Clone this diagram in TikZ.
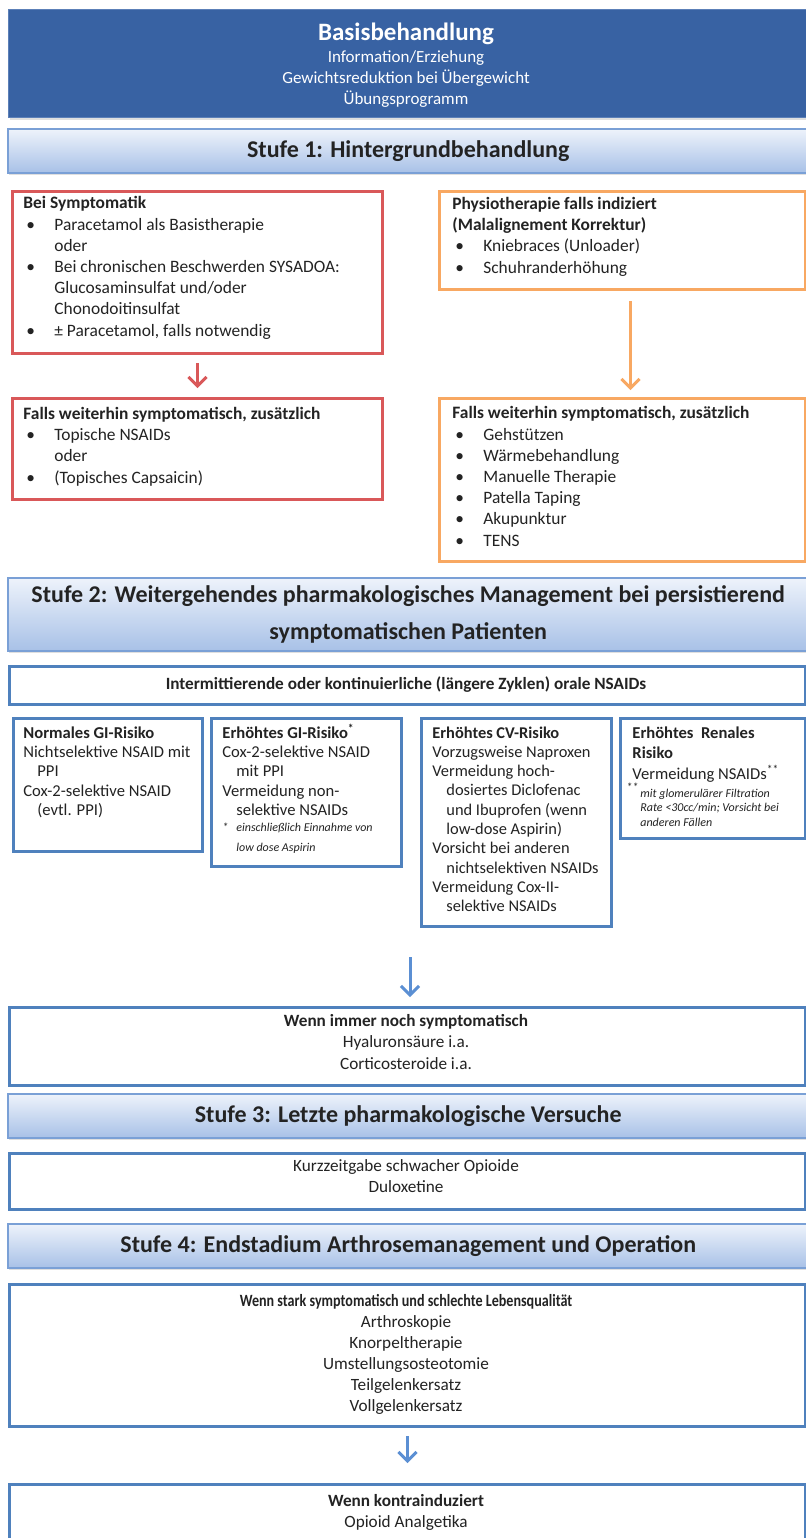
\documentclass[tikz,border=0pt]{standalone}
\usepackage{fontspec}
\setmainfont{Carlito}
\usetikzlibrary{arrows.meta,shadows}

\definecolor{basisblue}{RGB}{56,98,163}
\definecolor{basisline}{RGB}{92,128,184}
\definecolor{stagetop}{RGB}{238,243,251}
\definecolor{stagebot}{RGB}{168,193,231}
\definecolor{stageline}{RGB}{122,160,214}
\definecolor{boxred}{RGB}{217,88,89}
\definecolor{boxorange}{RGB}{248,168,98}
\definecolor{boxblue}{RGB}{79,129,189}
\definecolor{arrowblue}{RGB}{91,143,211}
\definecolor{inktext}{RGB}{35,35,35}

\newcommand\bul{\makebox[15.5pt][l]{\hspace{1.5pt}\textbullet}}
\newcommand\ind{\hspace*{15.5pt}}
\newcommand\hng{\hspace*{7pt}}

\begin{document}
\begin{tikzpicture}[x=0.5pt,y=-0.5pt,
    frame/.style={anchor=north west,inner sep=0pt,line width=1.5pt},
    wh/.style 2 args={minimum width=#1*0.5pt,minimum height=#2*0.5pt},
    redbox/.style={frame,draw=boxred,fill=white},
    orangebox/.style={frame,draw=boxorange,fill=white},
    bluebox/.style={frame,draw=boxblue,fill=white},
    stage/.style={frame,draw=stageline,line width=0.75pt,
      top color=stagetop,bottom color=stagebot,
      drop shadow={opacity=0.25,shadow xshift=0.6pt,shadow yshift=-1.2pt},
      font=\bfseries\fontsize{12}{18.5}\selectfont,text=inktext,align=center},
    txt/.style={anchor=base west,align=left,inner sep=0pt,text=inktext,
      font=\fontsize{8.7}{10.6}\selectfont},
    ctxt/.style={txt,anchor=base,align=center,font=\fontsize{8.6}{10.5}\selectfont},
    small/.style={txt,font=\fontsize{8.3}{9.7}\selectfont},
    note/.style={txt,font=\fontsize{6}{10}\selectfont\itshape},
    arr/.style={line width=1.5pt,-{Straight Barb[length=4.5pt,width=9pt]}}
  ]
  \useasboundingbox (0,0) rectangle (806,1538);

  \node[frame,fill=basisblue,draw=basisline,line width=0.5pt,wh={800}{108},
    drop shadow={opacity=0.25,shadow xshift=0.6pt,shadow yshift=-1.2pt}] (basis) at (8,9) {};
  \node[anchor=base,inner sep=0pt,text=white,font=\bfseries\fontsize{12.5}{14}\selectfont]
    (basis-t) at (406,40) {Basisbehandlung};
  \node[anchor=base,inner sep=0pt,text=white,align=center,font=\fontsize{8.5}{10.5}\selectfont]
    (basis-l) at (406,104) {Information/Erziehung\\Gewichtsreduktion bei Übergewicht\\Übungsprogramm};

  \node[stage,wh={801}{44}] (stufe1) at (7,128) {Stufe 1: Hintergrundbehandlung};

  \node[redbox,wh={370}{162}] (sym) at (11,190) {};
  \node[txt] (sym-t) at (23,336) {\textbf{Bei Symptomatik}\\
    \bul Paracetamol als Basistherapie\\
    \ind oder\\
    \bul Bei chronischen Beschwerden SYSADOA:\\
    \ind Glucosaminsulfat und/oder\\
    \ind Chonodoitinsulfat\\
    \bul ± Paracetamol, falls notwendig};
  \node[redbox,wh={370}{101}] (symb) at (11,397) {};
  \node[txt] (symb-t) at (23,483) {\textbf{Falls weiterhin symptomatisch, zusätzlich}\\
    \bul Topische NSAIDs\\
    \ind oder\\
    \bul (Topisches Capsaicin)};
  \draw[arr,boxred,shorten <=4pt,shorten >=4.5pt] (sym.south) -- (symb.north);

  \node[orangebox,wh={366}{98}] (phys) at (438,190) {};
  \node[txt] (phys-t) at (452,273) {\textbf{Physiotherapie falls indiziert}\\
    \textbf{(Malalignement Korrektur)}\\
    \bul Kniebraces (Unloader)\\
    \bul Schuhranderhöhung};
  \node[orangebox,wh={366}{163}] (physb) at (438,397) {};
  \node[txt] (physb-t) at (452,546) {\textbf{Falls weiterhin symptomatisch, zusätzlich}\\
    \bul Gehstützen\\
    \bul Wärmebehandlung\\
    \bul Manuelle Therapie\\
    \bul Patella Taping\\
    \bul Akupunktur\\
    \bul TENS};
  \draw[arr,boxorange,shorten <=5pt,shorten >=3.5pt]
    ([xshift=4pt]phys.south) -- ([xshift=4pt]physb.north);

  \node[stage,wh={801}{73}] (stufe2) at (7,577)
    {Stufe 2: Weitergehendes pharmakologisches Management bei persistierend\\symptomatischen Patienten};
  \node[bluebox,wh={796}{38}] (nsaid) at (8,665) {};
  \node[ctxt,font=\bfseries\fontsize{8.6}{10}\selectfont] (nsaid-t) at (406,689)
    {Intermittierende oder kontinuierliche (längere Zyklen) orale NSAIDs};

  \node[bluebox,wh={189}{133}] (gi) at (12,717) {};
  \node[small] (gi-t) at (23,815.6) {\textbf{Normales GI-Risiko}\\
    Nichtselektive NSAID mit\\
    \hng PPI\\
    Cox-2-selektive NSAID\\
    \hng (evtl. PPI)};
  \node[bluebox,wh={190}{148}] (gihigh) at (210,717) {};
  \node[small] (gihigh-t) at (222,815.6) {\textbf{Erhöhtes GI-Risiko\textsuperscript{*}}\\
    Cox-2-selektive NSAID\\
    \hng mit PPI\\
    Vermeidung non-\\
    \hng selektive NSAIDs};
  \node[note] (gihigh-n) at (222,851) {\makebox[7pt][l]{*}einschließlich Einnahme von\\
    \hng low dose Aspirin};
  \node[bluebox,wh={190}{208}] (cv) at (420,717) {};
  \node[small,font=\fontsize{8.2}{9.65}\selectfont] (cv-t) at (432,911.7) {\textbf{Erhöhtes CV-Risiko}\\
    Vorzugsweise Naproxen\\
    Vermeidung hoch-\\
    \hng dosiertes Diclofenac\\
    \hng und Ibuprofen (wenn\\
    \hng low-dose Aspirin)\\
    Vorsicht bei anderen\\
    \hng nichtselektiven NSAIDs\\
    Vermeidung Cox-II-\\
    \hng selektive NSAIDs};
  \node[bluebox,wh={185}{120}] (renal) at (619,717) {};
  \node[small,font=\fontsize{8.3}{10.25}\selectfont] (renal-t) at (632,779) {\textbf{Erhöhtes\ \ Renales}\\
    \textbf{Risiko}\\
    Vermeidung NSAIDs\textsuperscript{**}};
  \node[note,font=\fontsize{6}{7.25}\selectfont\itshape] (renal-n) at (640,826)
    {\makebox[0pt][r]{\raisebox{3pt}{**}\hspace{1pt}}mit glomerulärer Filtration\\
    Rate <30cc/min; Vorsicht bei\\
    anderen Fällen};

  \coordinate (down) at (410,957);
  \node[bluebox,wh={796}{78}] (still) at (8,1006) {};
  \node[ctxt,font=\fontsize{8.6}{10.75}\selectfont] (still-t) at (406,1069)
    {\textbf{Wenn immer noch symptomatisch}\\Hyaluronsäure i.a.\\Corticosteroide i.a.};
  \draw[arr,arrowblue,shorten >=4.5pt] (down) -- (down |- still.north);

  \node[stage,wh={801}{44}] (stufe3) at (7,1093) {Stufe 3: Letzte pharmakologische Versuche};
  \node[bluebox,wh={796}{56}] (opio) at (8,1152) {};
  \node[ctxt] (opio-t) at (406,1192)
    {Kurzzeitgabe schwacher Opioide\\Duloxetine};

  \node[stage,wh={801}{44}] (stufe4) at (7,1223) {Stufe 4: Endstadium Arthrosemanagement und Operation};
  \node[bluebox,wh={796}{142}] (surg) at (8,1283) {};
  \node[ctxt] (surg-t) at (406,1411)
    {\scalebox{0.82}[1]{\textbf{Wenn stark symptomatisch und schlechte Lebensqualität}}\\
    Arthroskopie\\Knorpeltherapie\\Umstellungsosteotomie\\Teilgelenkersatz\\Vollgelenkersatz};
  \node[bluebox,wh={796}{62}] (contra) at (8,1483) {};
  \node[ctxt] (contra-t) at (406,1527)
    {\textbf{Wenn kontrainduziert}\\Opioid Analgetika};
  \draw[arr,arrowblue,shorten <=4pt,shorten >=10pt] (surg.south) -- (contra.north);
\end{tikzpicture}
\end{document}
